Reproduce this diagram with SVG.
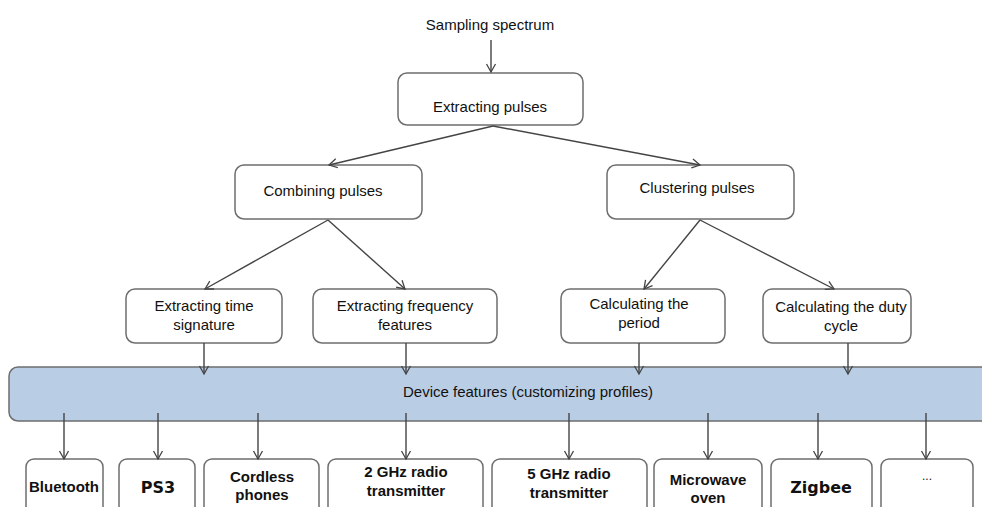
<svg xmlns="http://www.w3.org/2000/svg" width="982" height="507" viewBox="0 0 982 507">
<defs>
<marker id="arr" markerWidth="12" markerHeight="12" refX="10" refY="6" orient="auto" markerUnits="userSpaceOnUse">
<polyline points="2,1.5 10,6 2,10.5" fill="none" stroke="#444" stroke-width="1.3"/>
</marker>
<style>
.box{fill:#fff;stroke:#6e6e6e;stroke-width:1.5}
.band{fill:#b9cde4;stroke:#6e6e6e;stroke-width:1.5}
.t{font-family:"Liberation Sans",Arial,sans-serif;font-size:15px;fill:#111;text-anchor:middle}
.b{font-family:"Liberation Sans",Arial,sans-serif;font-size:15px;font-weight:bold;fill:#111;text-anchor:middle}
.d{font-family:"DejaVu Sans",Verdana,sans-serif;font-size:16px;font-weight:bold;fill:#111;text-anchor:middle}
.c{fill:none;stroke:#444;stroke-width:1.4;marker-end:url(#arr)}
</style>
</defs>
<g id="sampling"><text class="t" x="490" y="30">Sampling spectrum</text></g>
<g id="extracting-pulses"><rect class="box" x="398" y="73" width="185" height="52" rx="9"/><text class="t" x="490" y="112">Extracting pulses</text></g>
<g id="combining-pulses"><rect class="box" x="235" y="165" width="187" height="54" rx="9"/><text class="t" x="323" y="196">Combining pulses</text></g>
<g id="clustering-pulses"><rect class="box" x="607" y="165" width="187" height="54" rx="9"/><text class="t" x="697" y="193">Clustering pulses</text></g>
<g id="time-signature"><rect class="box" x="126" y="289" width="156" height="54" rx="9"/><text class="t" x="204" y="311">Extracting time</text><text class="t" x="204" y="330">signature</text></g>
<g id="frequency-features"><rect class="box" x="313" y="289" width="184" height="54" rx="9"/><text class="t" x="405" y="311">Extracting frequency</text><text class="t" x="405" y="330">features</text></g>
<g id="period"><rect class="box" x="561" y="289" width="164" height="54" rx="9"/><text class="t" x="639" y="309">Calculating the</text><text class="t" x="639" y="328">period</text></g>
<g id="duty-cycle"><rect class="box" x="763" y="289" width="148" height="54" rx="9"/><text class="t" x="841" y="312">Calculating the duty</text><text class="t" x="841" y="331">cycle</text></g>
<g id="device-features"><rect class="band" x="9" y="367" width="990" height="54" rx="9"/><text class="t" x="403" y="397" style="text-anchor:start">Device features (customizing profiles)</text></g>
<g id="bluetooth"><rect class="box" x="26" y="459" width="77" height="60" rx="8"/><text class="b" x="64" y="492">Bluetooth</text></g>
<g id="ps3"><rect class="box" x="119" y="459" width="76" height="60" rx="8"/><text class="d" x="158" y="493">PS3</text></g>
<g id="cordless"><rect class="box" x="204" y="459" width="115" height="60" rx="8"/><text class="b" x="262" y="482">Cordless</text><text class="b" x="262" y="500">phones</text></g>
<g id="radio-2ghz"><rect class="box" x="328" y="459" width="155" height="60" rx="8"/><text class="b" x="406" y="477">2 GHz radio</text><text class="b" x="406" y="496">transmitter</text></g>
<g id="radio-5ghz"><rect class="box" x="492" y="459" width="155" height="60" rx="8"/><text class="b" x="569" y="479">5 GHz radio</text><text class="b" x="569" y="498">transmitter</text></g>
<g id="microwave"><rect class="box" x="654" y="459" width="108" height="60" rx="8"/><text class="b" x="708" y="485">Microwave</text><text class="b" x="708" y="503">oven</text></g>
<g id="zigbee"><rect class="box" x="771" y="459" width="101" height="60" rx="8"/><text class="d" x="821" y="493">Zigbee</text></g>
<g id="more"><rect class="box" x="881" y="459" width="92" height="60" rx="8"/><text class="t" x="927" y="480" style="font-size:12px">...</text></g>
<g id="connectors">
<line class="c" x1="491" y1="40" x2="491" y2="72"/>
<line class="c" x1="493" y1="126" x2="329" y2="165"/>
<line class="c" x1="493" y1="126" x2="700" y2="165"/>
<line class="c" x1="328" y1="220" x2="205" y2="289"/>
<line class="c" x1="328" y1="220" x2="405" y2="289"/>
<line class="c" x1="700" y1="220" x2="644" y2="289"/>
<line class="c" x1="700" y1="220" x2="834" y2="289"/>
<line class="c" x1="204" y1="343" x2="204" y2="374"/>
<line class="c" x1="406" y1="343" x2="406" y2="374"/>
<line class="c" x1="639" y1="343" x2="639" y2="374"/>
<line class="c" x1="848" y1="343" x2="848" y2="374"/>
<line class="c" x1="64" y1="413" x2="64" y2="459"/>
<line class="c" x1="158" y1="413" x2="158" y2="459"/>
<line class="c" x1="258" y1="413" x2="258" y2="459"/>
<line class="c" x1="406" y1="413" x2="406" y2="459"/>
<line class="c" x1="569" y1="413" x2="569" y2="459"/>
<line class="c" x1="708" y1="413" x2="708" y2="459"/>
<line class="c" x1="818" y1="413" x2="818" y2="459"/>
<line class="c" x1="926" y1="413" x2="926" y2="459"/>
</g>
</svg>
